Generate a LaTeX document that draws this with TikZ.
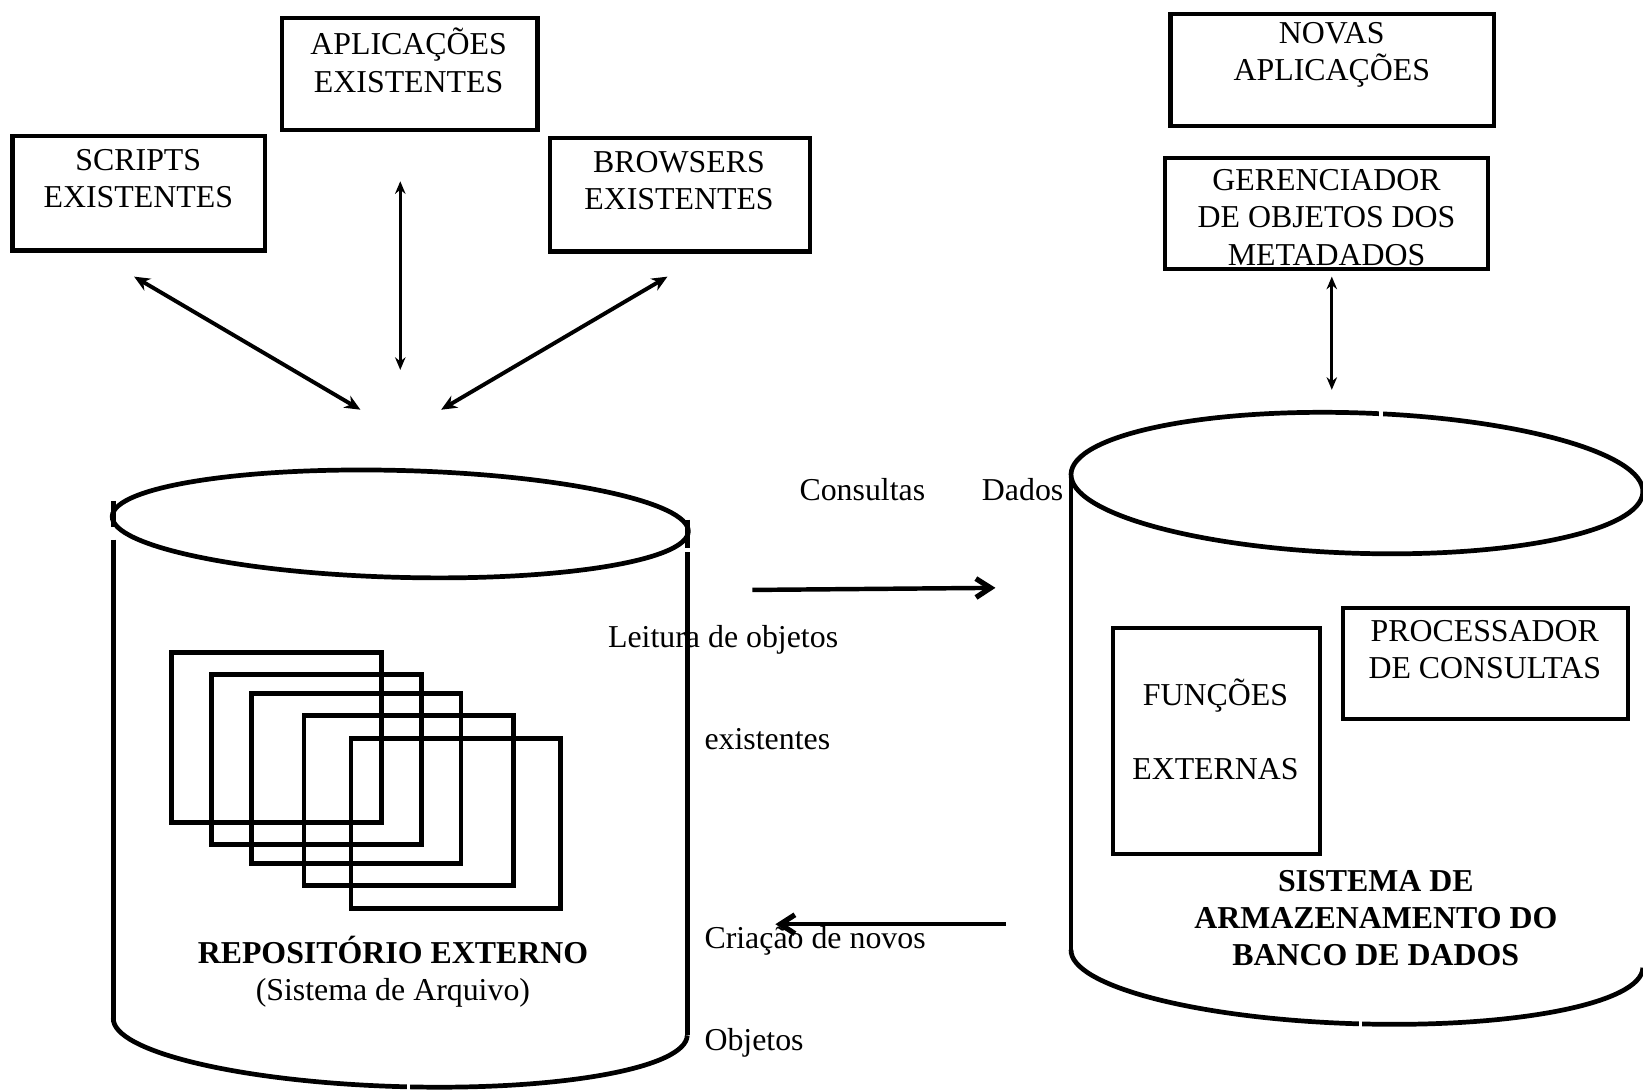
\documentclass[tikz,border=0pt]{standalone}
\usepackage{fontspec}
\setmainfont{Liberation Serif}
\usetikzlibrary{arrows.meta}

\newlength{\px}
\setlength{\px}{0.2mm}

\begin{document}
\begin{tikzpicture}[x=0.2mm, y=-0.2mm,
    every node/.style={font=\fontsize{17.3}{20.2}\selectfont, inner sep=0pt},
    box/.style={draw, line width=0.8mm},
    txt/.style={align=center},
    lbl/.style={anchor=base west},
    cyl/.style={line width=0.9mm},
    dbl/.style={{Stealth[length=3mm,width=2.6mm]}-{Stealth[length=3mm,width=2.6mm]}, line width=0.75mm},
    vdbl/.style={{Stealth[length=2.4mm,width=2mm]}-{Stealth[length=2.4mm,width=2mm]}, line width=0.6mm},
    flow/.style={-{Straight Barb[length=2.8mm,width=3.6mm,line width=1mm]}, line width=0.85mm}]

  \useasboundingbox (0,0) rectangle (1568,1040);
  \clip (0,0) rectangle (1568,1040);

  % caixas de cima
  \node[box, minimum width=241\px, minimum height=109\px] (scripts) at (132.5,184.5) {};
  \node[box, minimum width=244\px, minimum height=107\px] (aplic) at (391,70.5) {};
  \node[box, minimum width=248\px, minimum height=108\px] (browsers) at (649,186) {};
  \node[box, minimum width=309\px, minimum height=107\px] (novas) at (1271.5,66.5) {};
  \node[box, minimum width=308\px, minimum height=106\px] (gerenc) at (1266,204) {};

  \node[txt] (scripts-t) at (132,170.5) {SCRIPTS\\EXISTENTES};
  \node[txt] (aplic-t) at (390,57.5) {APLICAÇÕES\\EXISTENTES};
  \node[txt] (browsers-t) at (648,172.5) {BROWSERS\\EXISTENTES};
  \node[txt] (novas-t) at (1271,52.5) {NOVAS\\APLICAÇÕES};
  \node[txt] (gerenc-t) at (1266,207.5) {GERENCIADOR\\DE OBJETOS DOS\\METADADOS};

  % setas de cima
  \path (128,264) coordinate (scr-a) (344,391) coordinate (scr-b)
        (382,173) coordinate (apl-a) (382,353) coordinate (apl-b)
        (637,264) coordinate (brw-a) (421,391) coordinate (brw-b)
        (1271,264) coordinate (ger-a) (1271,372) coordinate (ger-b);
  \draw[dbl] (scr-a) -- (scr-b);
  \draw[vdbl] (apl-a) -- (apl-b);
  \draw[dbl] (brw-a) -- (brw-b);
  \draw[vdbl] (ger-a) -- (ger-b);

  % repositorio externo
  \draw[cyl, rotate around={-1.5:(382,500)}] (382,500) ellipse [x radius=275, y radius=51];
  \draw[cyl, rotate around={-1.7:(382,980)}] (108,980) arc [start angle=180, end angle=0, x radius=274, y radius=57];
  \draw[cyl] (108,478) -- (108,503) (108,515) -- (108,972);
  \draw[cyl] (656,496) -- (656,523) (656,527) -- (656,988);
  \draw[white, line width=0.6mm] (390,1025) -- (390,1040);

  \foreach \x/\y in {164/623, 202/644, 240/662, 290/683, 335/705}
    \draw[line width=0.9mm] (\x,\y) rectangle +(200,162);

  \node[txt] (repo) at (375,927) {\textbf{REPOSITÓRIO EXTERNO}\\(Sistema de Arquivo)};

  % banco de dados
  \draw[cyl, rotate around={-1.8:(1295,461)}] (1295,461) ellipse [x radius=273, y radius=67];
  \draw[cyl, rotate around={-1.8:(1295,915)}] (1022,915) arc [start angle=180, end angle=0, x radius=273, y radius=62];
  \draw[cyl] (1022,451) -- (1022,907);
  \draw[white, line width=0.6mm] (1318,386) -- (1318,404);
  \draw[white, line width=0.6mm] (1298,968) -- (1298,986);

  \node[box, minimum width=198\px, minimum height=216\px] (funcoes) at (1161,707) {};
  \node[box, minimum width=272\px, minimum height=106\px] (proc) at (1418,633) {};
  \node[txt] (funcoes-t) at (1160,696) {FUNÇÕES\\[7.1mm]EXTERNAS};
  \node[txt] (proc-t) at (1417,620) {PROCESSADOR\\DE CONSULTAS};
  \node[txt, font=\fontsize{17.3}{20.2}\selectfont\bfseries] (sgbd) at (1313,876)
    {SISTEMA DE\\ARMAZENAMENTO DO\\BANCO DE DADOS};

  % rotulos e setas do meio
  \node[anchor=base] (consultas) at (823,478) {Consultas};
  \node[anchor=base] (dados) at (976,478) {Dados};
  \node[lbl] (leitura) at (580,618) {Leitura de objetos};
  \node[lbl] (exist) at (672,715) {existentes};
  \node[lbl] (criacao) at (672,905) {Criação de novos};
  \node[lbl] (objetos) at (672,1003) {Objetos};

  \path (718,563) coordinate (rd-a) (950,561) coordinate (rd-b)
        (960,882) coordinate (cr-a) (740,882) coordinate (cr-b);
  \draw[flow] (rd-a) -- (rd-b);
  \draw[flow] (cr-a) -- (cr-b);

\end{tikzpicture}
\end{document}
